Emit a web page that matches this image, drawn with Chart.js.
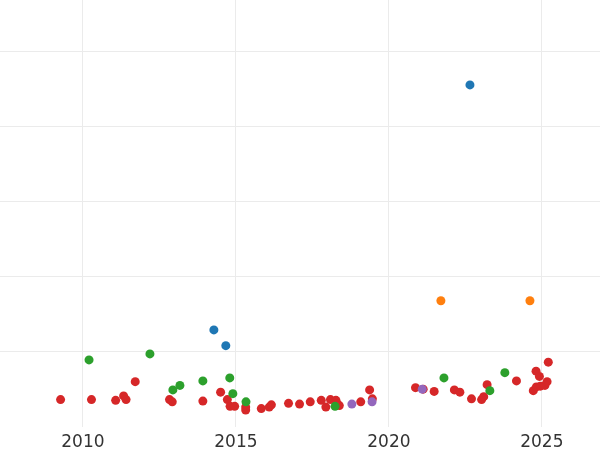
<!DOCTYPE html>
<html>
<head>
<meta charset="utf-8">
<script src="https://cdn.jsdelivr.net/npm/chart.js@4"></script>
<style>
  html, body { margin: 0; padding: 0; background: #fff; }
  #wrap { width: 600px; height: 450px; }
</style>
</head>
<body>
<div id="wrap"><canvas id="chart"></canvas></div>
<script>
// values (y has no labels; grid lines sit at 1..5)
const xTicks = [2010, 2015, 2020, 2025];

const redX = [2009.27, 2010.28, 2011.07, 2011.33, 2011.41, 2011.71, 2012.83, 2012.92, 2013.92, 2014.50,
  2014.72, 2014.81, 2014.96, 2015.32, 2015.32, 2015.83, 2016.09, 2016.16, 2016.72, 2017.08,
  2017.43, 2017.79, 2017.94, 2018.09, 2018.27, 2018.32, 2018.38, 2019.08, 2019.37, 2019.46,
  2020.87, 2021.12, 2021.48, 2022.14, 2022.32, 2022.70, 2023.03, 2023.10, 2023.21, 2024.17,
  2024.81, 2024.92, 2025.21, 2024.72, 2024.82, 2024.95, 2025.10, 2025.17];
const redY = [0.36, 0.36, 0.35, 0.41, 0.36, 0.60, 0.36, 0.33, 0.34, 0.46,
  0.36, 0.27, 0.27, 0.26, 0.22, 0.24, 0.26, 0.29, 0.31, 0.30,
  0.33, 0.35, 0.26, 0.36, 0.35, 0.30, 0.28, 0.33, 0.49, 0.37,
  0.52, 0.50, 0.47, 0.49, 0.46, 0.37, 0.36, 0.40, 0.56, 0.61,
  0.74, 0.67, 0.86, 0.48, 0.53, 0.54, 0.55, 0.60];

const greenX = [2010.20, 2012.19, 2012.94, 2013.17, 2013.92, 2014.80, 2014.90, 2015.33, 2018.24, 2021.80, 2023.79, 2023.30];
const greenY = [0.89, 0.97, 0.49, 0.55, 0.61, 0.65, 0.44, 0.33, 0.27, 0.65, 0.72, 0.48];

const blueX = [2022.65, 2014.28, 2014.67];
const blueY = [4.56, 1.29, 1.08];

const orangeX = [2021.70, 2024.61];
const orangeY = [1.68, 1.68];

const purpleX = [2018.79, 2019.45, 2021.09];
const purpleY = [0.30, 0.33, 0.50];

function toPoints(xs, ys) {
  return xs.map((x, i) => ({ x, y: ys[i] }));
}

function makeSet(xs, ys, color) {
  return {
    data: toPoints(xs, ys),
    backgroundColor: color,
    borderWidth: 0,
    pointRadius: 4.5,
    pointHoverRadius: 4.5
  };
}

new Chart(document.getElementById('chart'), {
  type: 'scatter',
  data: {
    datasets: [
      makeSet(purpleX, purpleY, '#9467bd'),
      makeSet(orangeX, orangeY, '#ff7f0e'),
      makeSet(blueX, blueY, '#1f77b4'),
      makeSet(greenX, greenY, '#2ca02c'),
      makeSet(redX, redY, '#d62728')
    ]
  },
  options: {
    animation: false,
    responsive: true,
    maintainAspectRatio: false,
    layout: { padding: { top: 0, left: 0, right: 0, bottom: -9 }, autoPadding: false },
    plugins: {
      legend: { display: false },
      tooltip: { enabled: false }
    },
    scales: {
      x: {
        type: 'linear',
        min: 2007.29,
        max: 2026.9,
        afterBuildTicks: (axis) => { axis.ticks = xTicks.map((v) => ({ value: v })); },
        border: { display: false },
        grid: { color: '#ebebeb', lineWidth: 1, drawTicks: false },
        ticks: {
          padding: 6,
          color: '#333',
          font: { family: 'DejaVu Sans', size: 17 },
          maxRotation: 0,
          callback: (v) => String(v)
        }
      },
      y: {
        type: 'linear',
        min: 0,
        max: 5.693,
        afterBuildTicks: (axis) => { axis.ticks = [1, 2, 3, 4, 5].map((v) => ({ value: v })); },
        border: { display: false },
        grid: { color: '#ebebeb', lineWidth: 1, drawTicks: false },
        ticks: { display: false }
      }
    }
  }
});
</script>
</body>
</html>
